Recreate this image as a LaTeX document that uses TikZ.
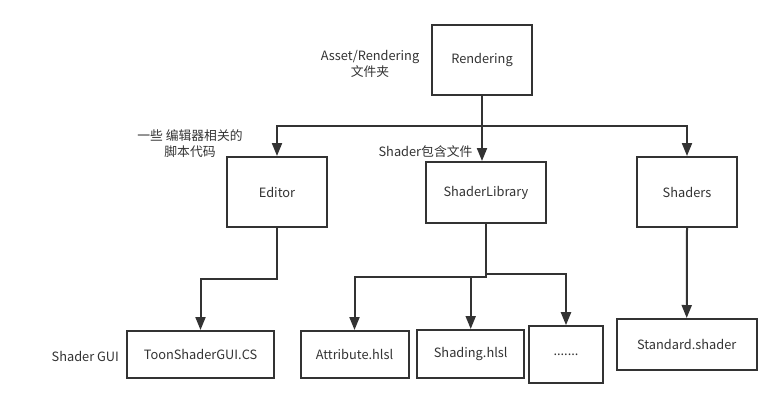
\documentclass[tikz,border=0pt]{standalone}
\usepackage{fontspec}
\setmainfont{Noto Sans CJK SC}
\usetikzlibrary{arrows.meta}
\definecolor{ink}{HTML}{333333}
\begin{document}
\begin{tikzpicture}[x=1pt,y=-1pt,
  box/.style={draw=ink,line width=2pt,inner sep=0pt,text=ink,font=\fontsize{12.8}{16}\selectfont},
  lbl/.style={text=ink,inner sep=0pt,align=center,font=\fontsize{12.8}{16}\selectfont},
  arr/.style={draw=ink,line width=2pt,-{Triangle[width=10pt,length=13pt]}},
  ]
\useasboundingbox[fill=white] (0,0) rectangle (782,408);
\node[box,minimum width=100pt,minimum height=70pt] (rend) at (482,60) {Rendering};
\node[box,minimum width=100pt,minimum height=70pt] (editor) at (277,192) {Editor};
\node[box,minimum width=120pt,minimum height=61pt] (shlib) at (486,192.5) {ShaderLibrary};
\node[box,minimum width=100pt,minimum height=70pt] (shaders) at (687,192) {Shaders};
\node[box,minimum width=147pt,minimum height=47pt] (toon) at (200.5,354.5) {ToonShaderGUI.CS};
\node[box,minimum width=108pt,minimum height=47pt] (attr) at (354.5,354.5) {Attribute.hlsl};
\node[box,minimum width=107pt,minimum height=48pt] (shading) at (470.7,354) {Shading.hlsl};
\node[box,minimum width=74pt,minimum height=57pt] (dots) at (566,354.7) {.......};
\node[box,minimum width=140pt,minimum height=51pt] (standard) at (686.7,344.5) {Standard.shader};

\node[lbl] (l1) at (370,64) {Asset/Rendering\\文件夹};
\node[lbl] (l2) at (190,144) {一些 编辑器相关的\\脚本代码};
\node[lbl] (l3) at (425.5,151.7) {Shader包含文件};
\node[lbl] (l4) at (85.3,356) {Shader GUI};

\coordinate (bus) at (482,126);
\coordinate (ebend) at (277,279);
\coordinate (lbend) at (486,277);
\coordinate (rbend) at (486,274);

\draw[arr] (rend.south) -- (rend.south |- shlib.north);
\draw[arr] (bus) -| (editor.north);
\draw[arr] (bus) -| (shaders.north);
\draw[arr] (editor.south) -- (ebend) -| (toon.north);
\draw[arr] (shlib.south) -- (lbend) -| (attr.north);
\draw[arr] (lbend) -| (shading.north);
\draw[arr] (rbend) -| (dots.north);
\draw[arr] (shaders.south) -- (standard.north);
\end{tikzpicture}
\end{document}
